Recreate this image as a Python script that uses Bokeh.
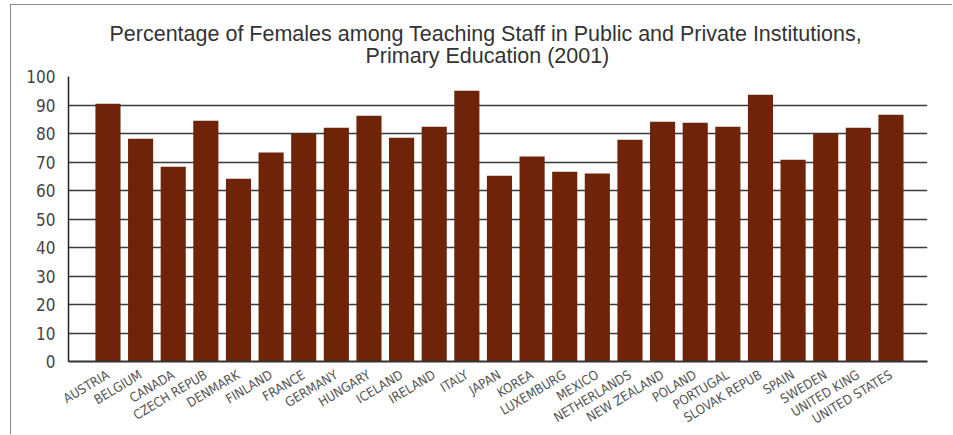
import math
from bokeh.plotting import figure
from bokeh.models import Range1d, FixedTicker, Title
from bokeh.embed import file_html
from bokeh.resources import INLINE

countries = ["AUSTRIA", "BELGIUM", "CANADA", "CZECH REPUB", "DENMARK", "FINLAND",
             "FRANCE", "GERMANY", "HUNGARY", "ICELAND", "IRELAND", "ITALY", "JAPAN",
             "KOREA", "LUXEMBURG", "MEXICO", "NETHERLANDS", "NEW ZEALAND", "POLAND",
             "PORTUGAL", "SLOVAK REPUB", "SPAIN", "SWEDEN", "UNITED KING", "UNITED STATES"]
female_pct = [90.4, 78.2, 68.3, 84.5, 64.1, 73.3, 79.9, 82.0, 86.2, 78.5, 82.4, 95.0,
              65.2, 71.9, 66.6, 66.0, 77.8, 84.1, 83.8, 82.4, 93.6, 70.8, 79.9, 82.0, 86.6]
y_ticks = [0, 10, 20, 30, 40, 50, 60, 70, 80, 90, 100]
title_lines = ["Percentage of Females among Teaching Staff in Public and Private Institutions,",
               "Primary Education (2001)"]

LABEL_FONT = "'Liberation Sans Narrow', 'DejaVu Sans Condensed', 'Roboto', sans-serif"

idx = list(range(len(countries)))

# canvas is offset by 11px left / 5px top to leave room for the outer border lines
p = figure(width=942, height=430, output_backend="svg", toolbar_location=None,
           x_range=Range1d(-1.21, len(countries) - 1 + 1.12),
           y_range=Range1d(0, 100),
           min_border_left=57, min_border_right=26, min_border_top=71, min_border_bottom=69)
p.styles = {"margin-left": "10px", "margin-top": "4px",
            "border-left": "1px solid #8a8a8a", "border-top": "1px solid #8a8a8a"}

p.vbar(x=idx, top=female_pct, width=0.77, bottom=0, fill_color="#6f2309", line_color=None)

p.title.visible = False
# line 2 (closest to the frame) first, then line 1 above it
p.add_layout(Title(text=title_lines[1], align="left", text_font="Liberation Sans",
                   text_font_size="21.5px", text_font_style="normal",
                   text_color="#333333", offset=297, standoff=18), "above")
p.add_layout(Title(text=title_lines[0], align="left", text_font="Liberation Sans",
                   text_font_size="21.5px", text_font_style="normal",
                   text_color="#333333", offset=41, standoff=-26), "above")

p.outline_line_color = None
p.background_fill_color = "white"
p.border_fill_color = "white"

# y axis
p.yaxis.ticker = FixedTicker(ticks=y_ticks)
p.yaxis.major_tick_line_color = None
p.yaxis.minor_tick_line_color = None
p.yaxis.axis_line_color = "#222222"
p.yaxis.axis_line_width = 1.5
p.yaxis.major_label_text_font = LABEL_FONT
p.yaxis.major_label_text_font_size = "17px"
p.yaxis.major_label_text_color = "#444444"
p.yaxis.major_label_standoff = 7

# x axis
p.xaxis.ticker = FixedTicker(ticks=idx)
p.xaxis.major_label_overrides = {i: c for i, c in zip(idx, countries)}
p.xaxis.major_label_orientation = math.radians(31)
p.xaxis.major_tick_line_color = None
p.xaxis.minor_tick_line_color = None
p.xaxis.axis_line_color = "#333333"
p.xaxis.axis_line_width = 2
p.xaxis.major_label_text_font = LABEL_FONT
p.xaxis.major_label_text_font_size = "13px"
p.xaxis.major_label_text_color = "#555555"
p.xaxis.major_label_standoff = 6

p.xgrid.grid_line_color = None
p.ygrid.ticker = FixedTicker(ticks=y_ticks[1:])
p.ygrid.grid_line_color = "#3a3a3a"
p.ygrid.grid_line_width = 1.6

open("out.html", "w").write(file_html(p, INLINE))
